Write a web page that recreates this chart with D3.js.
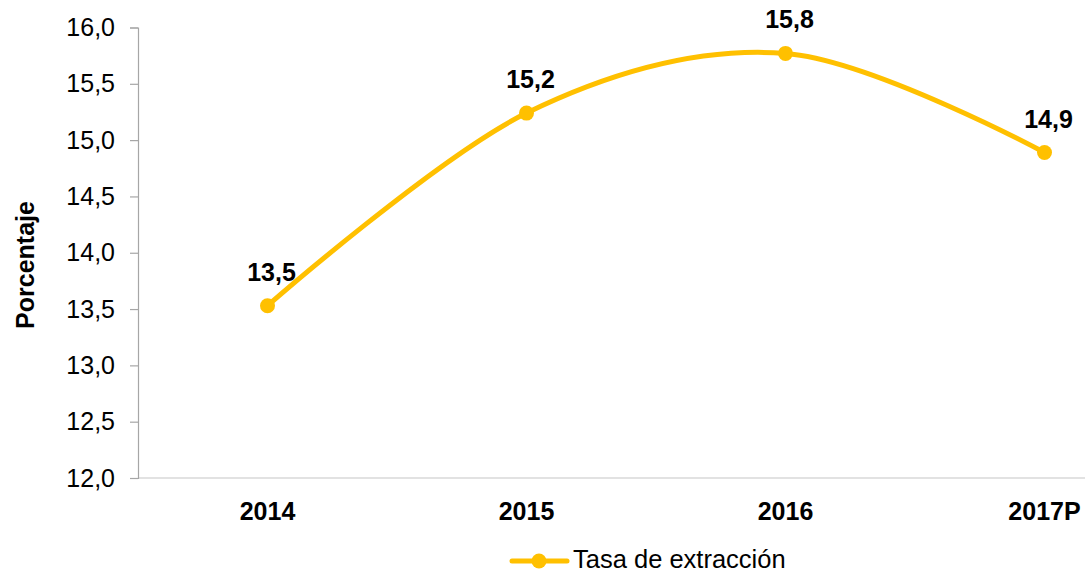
<!DOCTYPE html>
<html>
<head>
<meta charset="utf-8">
<script src="https://cdn.jsdelivr.net/npm/d3@7"></script>
<style>
  html, body { margin: 0; padding: 0; background: #fff; }
  svg { display: block; font-family: "Liberation Sans", Arial, sans-serif; }
</style>
</head>
<body>
<svg id="chart" width="1085" height="574"></svg>
<script>
const categories = ["2014", "2015", "2016", "2017P"];
const values = [13.53, 15.24, 15.77, 14.89];
const labels = ["13,5", "15,2", "15,8", "14,9"];
const yTicks = [12.0, 12.5, 13.0, 13.5, 14.0, 14.5, 15.0, 15.5, 16.0];
const seriesName = "Tasa de extracción";
const yTitle = "Porcentaje";

(function () {
const svg = d3.select("#chart");
const plotLeft = 138, plotRight = 1174, plotTop = 27.5, plotBottom = 478;
const color = "#FFC000";

const x = d3.scaleBand().domain(categories).range([plotLeft, plotRight]);
const y = d3.scaleLinear().domain([12, 16]).range([plotBottom, plotTop]);
const cx = d => x(d) + x.bandwidth() / 2;

// baseline (category axis)
svg.append("line")
  .attr("x1", plotLeft).attr("x2", plotRight)
  .attr("y1", plotBottom).attr("y2", plotBottom)
  .attr("stroke", "#d9d9d9").attr("stroke-width", 1.5);

// y axis
const yAxis = d3.axisLeft(y).tickValues(yTicks).tickSize(8).tickPadding(15)
  .tickFormat(d => d3.format(".1f")(d).replace(".", ","));
const gy = svg.append("g").attr("transform", `translate(${plotLeft},0)`).call(yAxis);
gy.select(".domain").attr("stroke", "#a6a6a6").attr("stroke-width", 1.2);
gy.selectAll(".tick line").attr("stroke", "#a6a6a6").attr("stroke-width", 1.2);
gy.selectAll(".tick text").attr("font-size", 25).attr("fill", "#000")
  .attr("font-family", "Liberation Sans, Arial, sans-serif");

// x axis labels
const xAxis = d3.axisBottom(x).tickSize(0).tickPadding(24);
const gx = svg.append("g").attr("transform", `translate(0,${plotBottom})`).call(xAxis);
gx.select(".domain").remove();
gx.selectAll(".tick text").attr("font-size", 25).attr("font-weight", "bold").attr("fill", "#000")
  .attr("font-family", "Liberation Sans, Arial, sans-serif");

// y title
svg.append("text")
  .attr("transform", `translate(34,265) rotate(-90)`)
  .attr("text-anchor", "middle")
  .attr("font-size", 25).attr("font-weight", "bold").attr("fill", "#000")
  .text(yTitle);

// line
const pts = categories.map((c, i) => [cx(c), y(values[i])]);
svg.append("path")
  .attr("d", d3.line().curve(d3.curveCardinal.tension(0))(pts))
  .attr("fill", "none").attr("stroke", color).attr("stroke-width", 5)
  .attr("stroke-linecap", "round");

svg.selectAll("circle.pt").data(pts).join("circle")
  .attr("class", "pt")
  .attr("cx", d => d[0]).attr("cy", d => d[1]).attr("r", 7.5)
  .attr("fill", color);

svg.selectAll("text.lbl").data(pts).join("text")
  .attr("class", "lbl")
  .attr("x", d => d[0] + 4).attr("y", d => d[1] - 25)
  .attr("text-anchor", "middle")
  .attr("font-size", 25).attr("font-weight", "bold").attr("fill", "#000")
  .text((d, i) => labels[i]);

// legend
const lg = svg.append("g");
lg.append("line").attr("x1", 512).attr("x2", 567).attr("y1", 561).attr("y2", 561)
  .attr("stroke", color).attr("stroke-width", 5).attr("stroke-linecap", "round");
lg.append("circle").attr("cx", 539).attr("cy", 561).attr("r", 7.5).attr("fill", color);
lg.append("text").attr("x", 573).attr("y", 568)
  .attr("font-size", 25.5).attr("fill", "#000").text(seriesName);
})();
</script>
</body>
</html>
